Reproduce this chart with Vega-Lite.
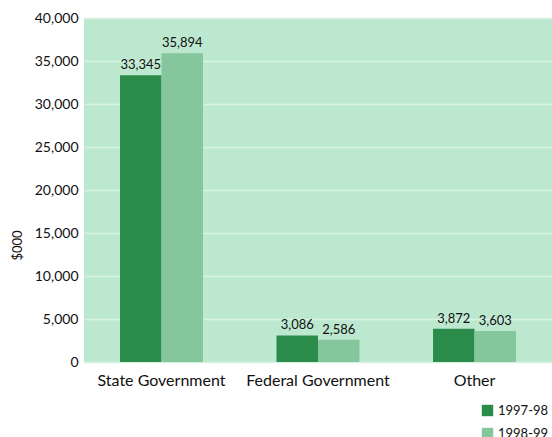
{
  "$schema": "https://vega.github.io/schema/vega-lite/v6.json",
  "autosize": "none",
  "width": 468,
  "height": 344,
  "padding": {"left": 84, "top": 18, "right": 0, "bottom": 75},
  "background": "white",
  "config": {
    "view": {"fill": "#bde8d0", "stroke": null},
    "font": "Lato",
    "axis": {"labelFont": "Lato", "titleFont": "Lato", "labelColor": "#111", "titleColor": "#111"}
  },
  "data": {
    "values": [
      {"source": "State Government", "year": "1997-98", "value": 33345},
      {"source": "State Government", "year": "1998-99", "value": 35894},
      {"source": "Federal Government", "year": "1997-98", "value": 3086},
      {"source": "Federal Government", "year": "1998-99", "value": 2586},
      {"source": "Other", "year": "1997-98", "value": 3872},
      {"source": "Other", "year": "1998-99", "value": 3603}
    ]
  },
  "encoding": {
    "x": {
      "field": "source", "type": "nominal", "sort": null,
      "scale": {"paddingInner": 0.47, "paddingOuter": 0.23},
      "axis": {"title": null, "labelAngle": 0, "labelFontSize": 16, "domain": false, "ticks": false, "labelPadding": 10, "grid": false}
    },
    "xOffset": {"field": "year", "type": "nominal"},
    "y": {
      "field": "value", "type": "quantitative",
      "scale": {"domain": [0, 40000]},
      "axis": {"values": [0, 5000, 10000, 15000, 20000, 25000, 30000, 35000, 40000], "format": ",.0f", "title": "$000", "titleFontSize": 13, "titleFontWeight": "normal", "titleX": -60, "titleY": 227, "labelFontSize": 14, "domain": false, "ticks": false, "labelPadding": 6, "gridColor": "#d8f2e2", "gridWidth": 1.5}
    }
  },
  "layer": [
    {
      "mark": {"type": "bar"},
      "encoding": {
        "color": {
          "field": "year", "type": "nominal",
          "scale": {"domain": ["1997-98", "1998-99"], "range": ["#2a8b4b", "#85c69c"]},
          "legend": {"title": null, "orient": "none", "legendX": 397, "legendY": 386, "symbolType": "square", "symbolSize": 130, "symbolStrokeWidth": 0, "symbolOpacity": 1, "labelFontSize": 13, "labelColor": "#111", "rowPadding": 9, "labelOffset": 4}
        }
      }
    },
    {
      "mark": {"type": "text", "baseline": "bottom", "dy": -3, "fontSize": 13, "color": "#111"},
      "encoding": {"text": {"field": "value", "type": "quantitative", "format": ",.0f"}}
    }
  ]
}
